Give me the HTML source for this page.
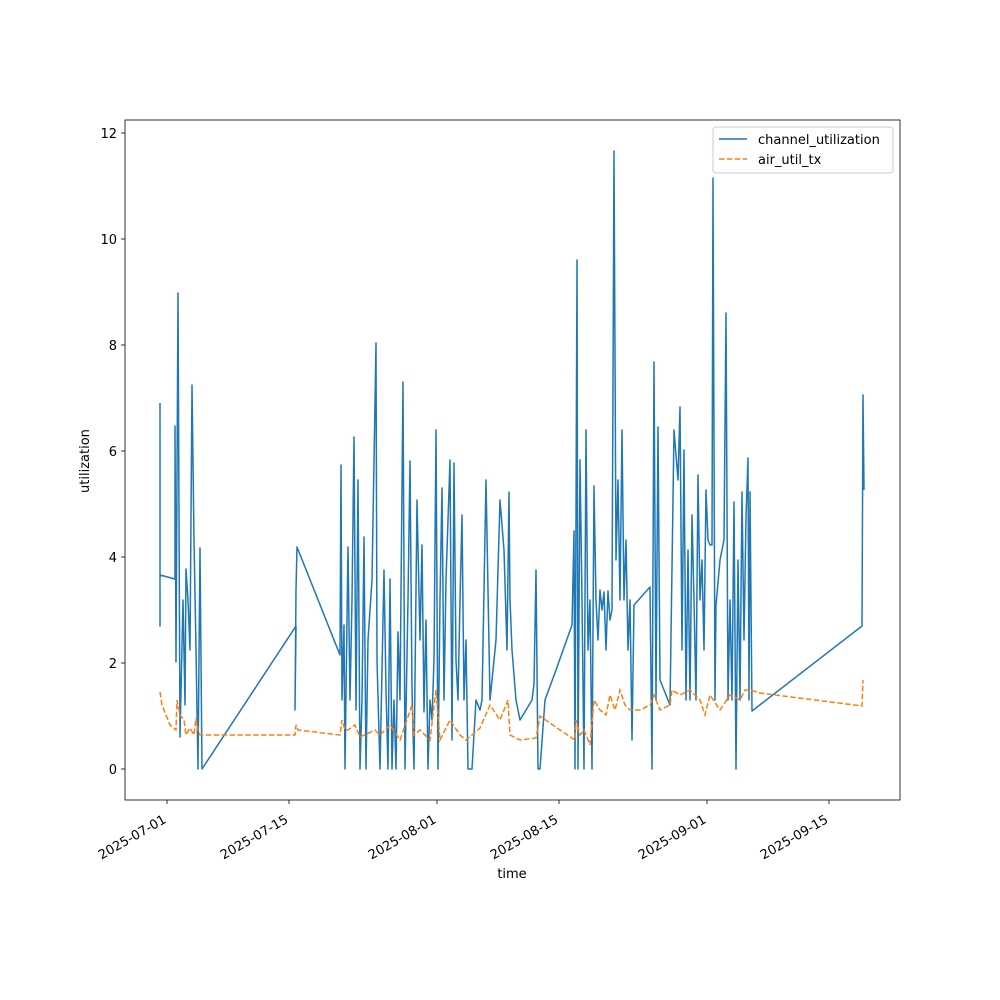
<!DOCTYPE html>
<html><head><meta charset="utf-8"><style>body{margin:0;background:#fff}svg{display:block;font-family:"DejaVu Sans","Liberation Sans",sans-serif}</style></head><body>
<svg width="1000" height="1000" xmlns="http://www.w3.org/2000/svg">
<rect width="1000" height="1000" fill="#fff"/>
<g font-size="13" fill="#000">
<g stroke="#000" stroke-width="0.8">
<line x1="121" y1="769" x2="125" y2="769"/><line x1="121" y1="663" x2="125" y2="663"/><line x1="121" y1="557" x2="125" y2="557"/><line x1="121" y1="451" x2="125" y2="451"/><line x1="121" y1="345" x2="125" y2="345"/><line x1="121" y1="239" x2="125" y2="239"/><line x1="121" y1="133" x2="125" y2="133"/>
<line x1="167" y1="800" x2="167" y2="804"/><line x1="289" y1="800" x2="289" y2="804"/><line x1="437" y1="800" x2="437" y2="804"/><line x1="559" y1="800" x2="559" y2="804"/><line x1="707" y1="800" x2="707" y2="804"/><line x1="829" y1="800" x2="829" y2="804"/>
</g>
<g text-anchor="end">
<text x="117" y="774">0</text><text x="117" y="668">2</text><text x="117" y="562">4</text><text x="117" y="456">6</text><text x="117" y="350">8</text><text x="117" y="244">10</text><text x="117" y="138">12</text>
<text transform="translate(167,822) rotate(-30)">2025-07-01</text>
<text transform="translate(289,822) rotate(-30)">2025-07-15</text>
<text transform="translate(437,822) rotate(-30)">2025-08-01</text>
<text transform="translate(559,822) rotate(-30)">2025-08-15</text>
<text transform="translate(707,822) rotate(-30)">2025-09-01</text>
<text transform="translate(829,822) rotate(-30)">2025-09-15</text>
</g>
<text x="512" y="878" text-anchor="middle">time</text>
<text transform="translate(89,461) rotate(-90)" text-anchor="middle">utilization</text>
</g>
<polyline fill="none" stroke="#1f77b4" stroke-width="1.5" stroke-linejoin="round" points="160,403 160,626 160,575 175,579 175,426 176,662 178,293 180,737 183,600 185,705 186,569 188,600 190,650 192,385 194,540 196,650 198,769 200,548 202,769 296,626 295,710 296,590 297,547 340,655 341,465 342,700 344,625 345,769 348,547 350,700 352,600 354,437 356,710 358,480 360,769 362,700 364,537 366,769 368,640 372,580 376,343 377,660 380,769 384,570 386,690 388,769 390,579 392,769 394,700 396,769 398,632 400,700 403,382 405,769 408,600 410,461 412,690 414,769 417,500 420,640 422,545 424,712 426,620 428,769 430,700 432,720 434,660 436,430 438,769 440,600 442,488 444,700 446,580 450,460 452,740 454,463 456,660 458,700 460,600 462,515 464,700 466,640 468,769 472,769 476,700 480,710 482,700 486,480 490,700 496,640 500,500 504,550 507,650 509,492 510,600 512,650 516,700 520,720 532,700 534,684 536,570 538,769 540,769 545,700 556,670 572,625 574,531 575,769 577,260 578,769 580,460 582,600 584,769 586,430 588,650 590,600 592,769 594,486 596,600 598,640 600,590 602,610 604,592 606,650 608,591 610,620 612,610 614,151 616,560 618,480 620,600 622,430 624,600 626,540 628,650 630,600 632,740 634,605 650,587 652,769 654,362 656,700 658,427 660,680 670,705 674,430 678,480 680,407 682,650 684,450 686,700 688,550 690,700 692,515 694,600 696,700 698,475 700,600 702,560 704,650 706,490 708,540 710,545 712,545 713,178 715,700 716,605 720,560 724,540 726,313 728,700 730,600 732,700 734,502 736,769 738,560 740,700 742,492 744,640 746,517 748,458 749,700 750,492 752,711 862,626 863,395 864,490"/>
<polyline fill="none" stroke="#ff7f0e" stroke-width="1.5" stroke-dasharray="5.5,2.4" points="160,692 162,705 170,725 176,730 177,700 180,715 184,720 186,735 190,728 194,735 196,718 198,730 200,735 295,735 296,725 298,730 340,735 342,720 345,730 348,730 355,725 360,737 375,730 380,735 390,725 400,740 412,705 414,735 420,730 430,740 436,690 440,740 450,720 460,735 466,740 472,735 480,728 490,705 500,720 508,700 510,735 520,740 536,738 540,716 560,730 575,740 576,720 580,735 584,730 590,745 594,700 600,710 606,715 610,695 615,710 620,690 625,705 630,710 640,710 650,705 654,695 660,710 670,705 672,690 680,695 690,690 700,700 705,715 710,695 720,710 730,695 740,700 745,690 750,690 760,693 862,706 863,680"/>
<rect x="125" y="120" width="775" height="680" fill="none" stroke="#000" stroke-width="0.8"/>
<g>
<rect x="713" y="127" width="180" height="46" rx="3" fill="#fff" fill-opacity="0.8" stroke="#ccc"/>
<line x1="719" y1="139" x2="747" y2="139" stroke="#1f77b4" stroke-width="1.5"/>
<line x1="719" y1="159" x2="747" y2="159" stroke="#ff7f0e" stroke-width="1.5" stroke-dasharray="5.5,2.4"/>
<text x="758" y="144" font-size="13">channel_utilization</text>
<text x="758" y="164" font-size="13">air_util_tx</text>
</g>
</svg>
</body></html>
